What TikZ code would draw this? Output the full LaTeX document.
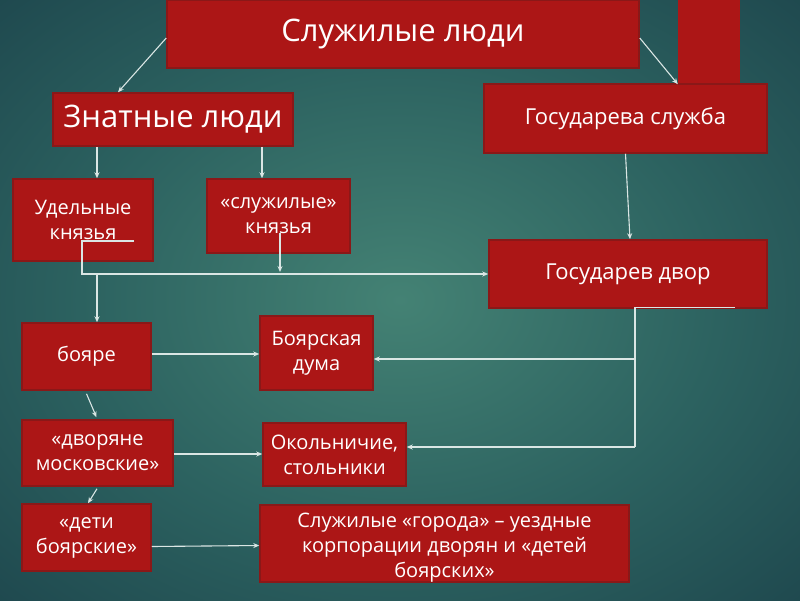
\documentclass[tikz,border=0pt]{standalone}
\usepackage{fontspec}
\setmainfont{Open Sans}
\usetikzlibrary{arrows.meta}
\definecolor{boxred}{RGB}{172,22,22}
\definecolor{boxedge}{RGB}{138,24,24}
\definecolor{linec}{RGB}{218,230,228}
\definecolor{bgc}{RGB}{68,130,116}
\definecolor{bgm}{RGB}{44,98,96}
\definecolor{bge}{RGB}{19,50,63}
\pgfdeclareradialshading{bgshade}{\pgfpoint{0bp}{0bp}}{color(0bp)=(bgc); color(20bp)=(bgm); color(50bp)=(bge); color(80bp)=(bge)}
\begin{document}
\begin{tikzpicture}[x=1pt,y=-1pt,
  box/.style={draw=boxedge, line width=1.5pt, fill=boxred, text=white, align=center, inner sep=0pt, font=\fontsize{20}{25}\selectfont},
  bigtext/.style={font=\fontsize{31}{36}\selectfont},
  midtext/.style={font=\fontsize{22}{26}\selectfont},
  conn/.style={draw=linec, line width=1.1pt, -{Stealth[length=6pt,width=5pt]}},
  plainline/.style={draw=linec, line width=1.1pt}]
\shade[shading=bgshade] (0,0) rectangle (800,600);
\useasboundingbox (0,0) rectangle (800,600);

% decorative bar
\node[draw=none, fill=boxred, minimum width=62pt, minimum height=86pt, inner sep=0pt] (bar) at (709,41) {};

\node[box, bigtext, minimum width=472pt, minimum height=68pt] (top) at (403,34) {Служилые люди};
\node[box, bigtext, minimum width=240pt, minimum height=53pt] (znat) at (173,119.5) {Знатные люди};
\node[box, midtext, minimum width=283pt, minimum height=69pt] (gossl) at (625.5,118.5) {Государева служба};
\node[box, minimum width=140pt, minimum height=82pt] (udel) at (83,220) {Удельные\\князья};
\node[box, minimum width=143pt, minimum height=74pt] (sluzhkn) at (278.5,216) {«служилые»\\князья};
\node[box, midtext, minimum width=278pt, minimum height=68pt] (dvor) at (628,274) {Государев двор};
\node[box, minimum width=129pt, minimum height=67pt] (boyare) at (86.5,356.5) {бояре};
\node[box, minimum width=113pt, minimum height=74pt] (duma) at (316.5,353) {Боярская\\дума};
\node[box, minimum width=151pt, minimum height=66pt] (dvoryane) at (97.5,453) {«дворяне\\московские»};
\node[box, minimum width=143pt, minimum height=63pt] (okol) at (334.5,454.5) {Окольничие,\\стольники};
\node[box, minimum width=129pt, minimum height=67pt] (deti) at (86.5,537.5) {«дети\\боярские»};
\node[box, minimum width=369pt, minimum height=77pt] (goroda) at (444.5,543.5) {};
\node[text=white, align=center, inner sep=0pt, font=\fontsize{20}{25}\selectfont] (gorodatext) at ([yshift=-4]goroda.center) {Служилые «города» – уездные\\корпорации дворян и «детей\\боярских»};

\coordinate (xa) at (97,0);
\coordinate (xb) at (262,0);
\coordinate (xc) at (82,0);
\coordinate (xd) at (280,0);
\coordinate (xe) at (635,0);
\coordinate (ya) at (0,241);
\coordinate (yb) at (0,274);
\coordinate (yc) at (0,359);
\coordinate (yd) at (0,447);
\coordinate (ye) at (0,354);
\coordinate (yf) at (0,454);

\draw[conn] ([yshift=-4]top.west) -- ([xshift=-55]znat.north);
\draw[conn] ([yshift=-4]top.east) -- (bar.south west);
\draw[conn] (znat.south -| xa) -- (udel.north -| xa);
\draw[conn] (znat.south -| xb) -- (sluzhkn.north -| xb);
\draw[conn] (gossl.south) -- ([xshift=2]dvor.north);
\draw[conn] ([xshift=51, yshift=-21]udel.center) -- (xc |- ya) -- (xc |- yb) -- (dvor.west);
\draw[conn] ([yshift=-17]sluzhkn.center -| xd) -- ([yshift=2]xd |- yb);
\draw[conn] (xa |- yb) -- (boyare.north -| xa);
\draw[plainline] ([xshift=107,yshift=1]dvor.south) -- ([yshift=1]dvor.south -| xe) -- (xe |- yd);
\draw[conn] (xe |- yc) -- (duma.east |- yc);
\draw[conn] (xe |- yd) -- (okol.east |- yd);
\draw[conn] (boyare.east |- ye) -- (duma.west |- ye);
\draw[conn] ([yshift=-3]boyare.south) -- ([xshift=10,yshift=2]dvoryane.north -| boyare.south);
\draw[conn] (dvoryane.east |- yf) -- (okol.west |- yf);
\draw[conn] ([yshift=-2]dvoryane.south -| xa) -- ([xshift=1.5]deti.north);
\draw[conn] ([yshift=-9]deti.east) -- ([yshift=-2]goroda.west);
\end{tikzpicture}
\end{document}
